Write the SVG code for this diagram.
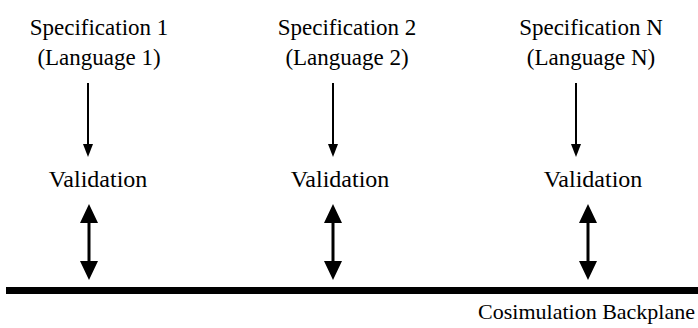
<svg xmlns="http://www.w3.org/2000/svg" width="698" height="328" viewBox="0 0 698 328">
<style>
text{font-family:"Liberation Serif","Times New Roman",serif;font-size:23px;fill:#000;text-anchor:middle}
.v{font-size:24px}
.ln{stroke:#000;stroke-width:2;fill:none}
.dl{stroke:#000;stroke-width:3;fill:none}
</style>
<g id="spec1"><text x="99" y="35">Specification 1</text><text x="99" y="65">(Language 1)</text></g>
<g id="spec2"><text x="347" y="35">Specification 2</text><text x="347" y="65">(Language 2)</text></g>
<g id="specN"><text x="591" y="35">Specification N</text><text x="591" y="65">(Language N)</text></g>
<g id="val1"><text class="v" x="98" y="187">Validation</text></g>
<g id="val2"><text class="v" x="340" y="187">Validation</text></g>
<g id="valN"><text class="v" x="593" y="187">Validation</text></g>
<g id="backplane"><rect x="6" y="287" width="692" height="7" fill="#000"/><text x="695" y="319" style="text-anchor:end;font-size:22px">Cosimulation Backplane</text></g>
<g id="connectors">
<line class="ln" x1="88" y1="83" x2="88" y2="145"/><path d="M83,144 L93,144 L88,157 Z" fill="#000"/>
<line class="ln" x1="333" y1="83" x2="333" y2="145"/><path d="M328,144 L338,144 L333,157 Z" fill="#000"/>
<line class="ln" x1="576" y1="83" x2="576" y2="145"/><path d="M571,144 L581,144 L576,157 Z" fill="#000"/>
<line class="dl" x1="89" y1="222" x2="89" y2="262"/><path d="M80,223 L98,223 L89,204 Z M80,261 L98,261 L89,280 Z" fill="#000"/>
<line class="dl" x1="333" y1="222" x2="333" y2="262"/><path d="M324,223 L342,223 L333,204 Z M324,261 L342,261 L333,280 Z" fill="#000"/>
<line class="dl" x1="588" y1="222" x2="588" y2="262"/><path d="M579,223 L597,223 L588,204 Z M579,261 L597,261 L588,280 Z" fill="#000"/>
</g>
</svg>
